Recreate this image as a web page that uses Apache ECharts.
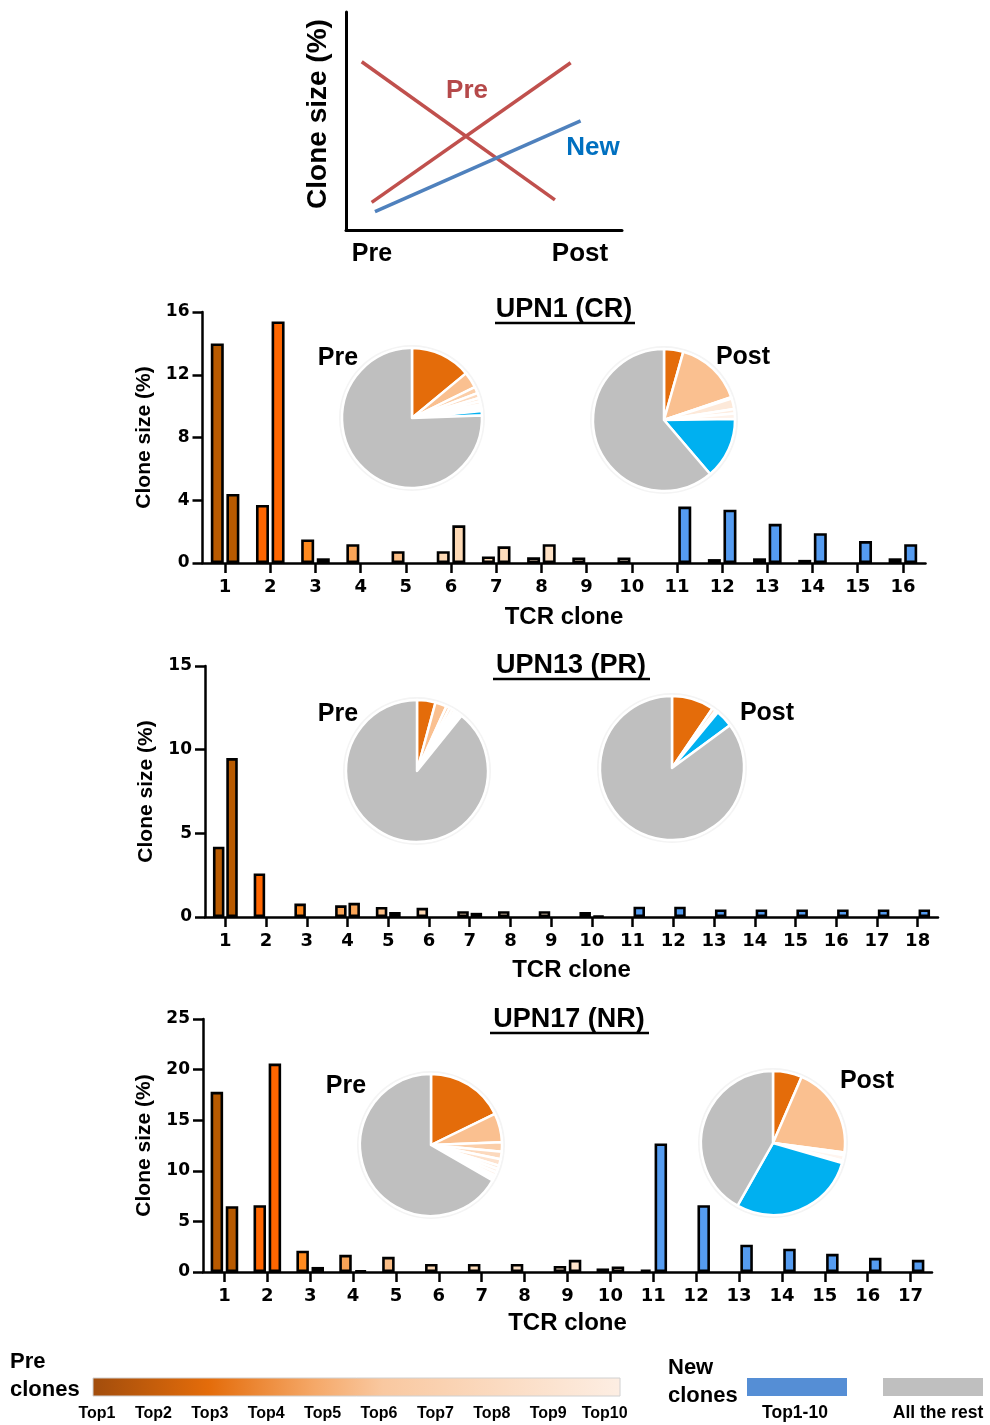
<!DOCTYPE html>
<html><head><meta charset="utf-8">
<script src="https://cdn.jsdelivr.net/npm/echarts@6/dist/echarts.min.js"></script>
<style>html,body{margin:0;padding:0;background:#fff}#c{width:990px;height:1425px}</style>
</head><body><div id="c"></div>
<script>
// ---------------- data ----------------
const upn1Clones = ['1','2','3','4','5','6','7','8','9','10','11','12','13','14','15','16'];
const upn1Pre  = [14.0, 3.7, 1.5, 1.2, 0.75, 0.75, 0.42, 0.36, 0.35, 0.35, 0, 0.25, 0.3, 0.2, 0, 0.3];
const upn1Post = [4.4, 15.4, 0.3, 0, 0, 2.4, 1.06, 1.2, 0, 0, 3.6, 3.4, 2.5, 1.9, 1.4, 1.2];

const upn13Clones = ['1','2','3','4','5','6','7','8','9','10','11','12','13','14','15','16','17','18'];
const upn13Pre  = [4.2, 2.6, 0.8, 0.7, 0.6, 0.55, 0.35, 0.35, 0.35, 0.3, 0, 0, 0, 0, 0, 0, 0, 0];
const upn13Post = [9.5, 0, 0, 0.85, 0.3, 0, 0.25, 0, 0, 0.06, 0.62, 0.62, 0.45, 0.45, 0.45, 0.45, 0.45, 0.45];

const upn17Clones = ['1','2','3','4','5','6','7','8','9','10','11','12','13','14','15','16','17'];
const upn17Pre  = [17.8, 6.6, 2.1, 1.7, 1.5, 0.8, 0.8, 0.8, 0.6, 0.35, 0.25, 0, 0, 0, 0, 0, 0];
const upn17Post = [6.5, 20.6, 0.5, 0.15, 0, 0, 0, 0, 1.2, 0.55, 12.7, 6.6, 2.7, 2.3, 1.8, 1.4, 1.2];

// schematic lines (x: 0..100 Pre->Post, y: 0..100 clone size)
const schemPreDown = [[5.7, 77.2], [75.7, 13.8]];
const schemPreUp   = [[9.3, 12.7], [81.4, 76.7]];
const schemNew     = [[10.5, 8.4], [85.0, 50.1]];

const preLegendLabels = ['Top1','Top2','Top3','Top4','Top5','Top6','Top7','Top8','Top9','Top10'];
const panelTitles = ['UPN1 (CR)', 'UPN13 (PR)', 'UPN17 (NR)'];

// ---------------- styles ----------------
const FONT = '"Liberation Sans", Arial, sans-serif';
const TFONT = '"DejaVu Sans", sans-serif';
const barColors = ['#B85A00','#FF6600','#FF8A1F','#F9A457','#FBBE86','#FDD9B5','#FEDDBB','#FEE1C4','#FEE4CB','#FFE8D2'];
const newBarColor = '#559CF1';
const pieColors = ['#E46C0A','#FAC090','#FBCEA8','#FCD9BD','#FDE2CD','#FDE9D9','#FEEEE2','#FEF2EA','#FFF5EF','#FFF8F4'];
const pieNew = '#00B0F0', pieRest = '#BFBFBF';

const panels = [
  {cats: upn1Clones, pre: upn1Pre, post: upn1Post, max: 16, interval: 4,
   grid: {left: 202.5, top: 312, width: 723, height: 251}, bw: 13, gap: '20%', xGap: 42,
   pies: [[412, 418, 70], [664, 420, 71]]},
  {cats: upn13Clones, pre: upn13Pre, post: upn13Post, max: 15, interval: 5,
   grid: {left: 205, top: 666, width: 733, height: 251}, bw: 11.5, gap: '16%', xGap: 41,
   pies: [[417, 771, 71], [672, 768, 72]]},
  {cats: upn17Clones, pre: upn17Pre, post: upn17Post, max: 25, interval: 5,
   grid: {left: 203, top: 1019, width: 729, height: 253}, bw: 12.5, gap: '21%', xGap: 39,
   pies: [[431, 1145, 71], [773, 1143, 72]]}
];

function pieData(vals) {
  const items = [];
  let total = 0;
  for (let i = 0; i < 10; i++) {
    total += vals[i];
    if (vals[i] > 0) items.push({name: 'Top' + (i + 1), value: vals[i], itemStyle: {color: pieColors[i]}});
  }
  let nw = 0;
  for (let i = 10; i < vals.length; i++) nw += vals[i];
  total += nw;
  if (nw > 0) items.push({name: 'New', value: nw, itemStyle: {color: pieNew}});
  items.push({name: 'Rest', value: 100 - total, itemStyle: {color: pieRest}});
  return items;
}

const grids = [{left: 346, top: 12, width: 276, height: 218}];
const xAxes = [{gridIndex: 0, type: 'value', min: 0, max: 100,
  axisLine: {show: true, onZero: false, lineStyle: {color: '#000', width: 3}},
  axisTick: {show: false}, axisLabel: {show: false}, splitLine: {show: false}}];
const yAxes = [{gridIndex: 0, type: 'value', min: 0, max: 100,
  axisLine: {show: true, lineStyle: {color: '#000', width: 3}},
  axisTick: {show: false}, axisLabel: {show: false}, splitLine: {show: false}}];
const series = [
  {type: 'line', xAxisIndex: 0, yAxisIndex: 0, data: schemPreDown, symbol: 'none', lineStyle: {color: '#C0504D', width: 3.5}, silent: true},
  {type: 'line', xAxisIndex: 0, yAxisIndex: 0, data: schemPreUp, symbol: 'none', lineStyle: {color: '#C0504D', width: 3.5}, silent: true},
  {type: 'line', xAxisIndex: 0, yAxisIndex: 0, data: schemNew, symbol: 'none', lineStyle: {color: '#4F81BD', width: 3.5}, silent: true}
];

const nz = v => v > 0 ? v : null;

panels.forEach((p, k) => {
  const gi = k + 1;
  grids.push(p.grid);
  xAxes.push({gridIndex: gi, type: 'category', data: p.cats,
    name: 'TCR clone', nameLocation: 'middle', nameGap: p.xGap,
    nameTextStyle: {fontFamily: FONT, fontWeight: 'bold', fontSize: 24, color: '#000'},
    axisLine: {show: true, lineStyle: {color: '#000', width: 2.5}},
    axisTick: {show: true, alignWithLabel: true, length: 10, lineStyle: {color: '#000', width: 2.5}},
    axisLabel: {fontFamily: TFONT, fontWeight: 'bold', fontSize: 18, color: '#000', margin: 15, interval: 0},
    splitLine: {show: false}});
  yAxes.push({gridIndex: gi, type: 'value', min: 0, max: p.max, interval: p.interval,
    name: 'Clone size (%)', nameLocation: 'middle', nameGap: 48, nameRotate: 90,
    nameTextStyle: {fontFamily: FONT, fontWeight: 'bold', fontSize: 21, color: '#000'},
    axisLine: {show: true, lineStyle: {color: '#000', width: 2.5}},
    axisTick: {show: true, length: 10, lineStyle: {color: '#000', width: 2.5}},
    axisLabel: {fontFamily: TFONT, fontWeight: 'bold', fontSize: 17, color: '#000', margin: 13},
    splitLine: {show: false}});
  const colorFn = (prm) => prm.dataIndex < 10 ? barColors[prm.dataIndex] : newBarColor;
  series.push({type: 'bar', name: 'Pre', xAxisIndex: gi, yAxisIndex: gi, data: p.pre.map(nz),
    barWidth: p.bw, barGap: p.gap, silent: true,
    itemStyle: {color: colorFn, borderColor: '#000', borderWidth: 2.6}});
  series.push({type: 'bar', name: 'Post', xAxisIndex: gi, yAxisIndex: gi, data: p.post.map(nz),
    barWidth: p.bw, barGap: p.gap, silent: true,
    itemStyle: {color: colorFn, borderColor: '#000', borderWidth: 2.6}});
  [p.pre, p.post].forEach((vals, j) => {
    const [cx, cy, r] = p.pies[j];
    series.push({type: 'pie', center: [cx, cy], radius: [r + 1, r + 3], silent: true,
      label: {show: false}, labelLine: {show: false},
      data: [{value: 1, itemStyle: {color: '#F4F4F4'}}]});
    series.push({type: 'pie', center: [cx, cy], radius: [0, r], startAngle: 90, clockwise: true,
      silent: true, label: {show: false}, labelLine: {show: false},
      itemStyle: {borderColor: '#fff', borderWidth: 2.5},
      data: pieData(vals)});
  });
});

// ---------------- graphic text ----------------
function txt(x, y, s, size, color, align) {
  return {type: 'text', x: x, y: y, silent: true,
    style: {text: s, fontFamily: FONT, fontWeight: 'bold', fontSize: size, fill: color || '#000',
      align: align || 'center', verticalAlign: 'middle'}};
}
const graphics = [];
// schematic labels
graphics.push({type: 'text', x: 318, y: 114, rotation: Math.PI / 2, silent: true,
  style: {text: 'Clone size (%)', fontFamily: FONT, fontWeight: 'bold', fontSize: 28, fill: '#000',
    align: 'center', verticalAlign: 'middle'}});
graphics.push(txt(467, 91, 'Pre', 26, '#B5494A'));
graphics.push(txt(593, 148, 'New', 26, '#0070C0'));
graphics.push(txt(372, 254, 'Pre', 25));
graphics.push(txt(580, 254, 'Post', 26));
// panel titles + underlines
const titlePos = [[564, 310, 495, 635, 323], [571, 666, 493, 650, 679], [569, 1020, 490, 649, 1033]];
titlePos.forEach((t, i) => {
  graphics.push(txt(t[0], t[1], panelTitles[i], 27));
  graphics.push({type: 'line', silent: true, shape: {x1: t[2], y1: t[4], x2: t[3], y2: t[4]},
    style: {stroke: '#000', lineWidth: 2.5}});
});
// pie labels
graphics.push(txt(338, 358, 'Pre', 25));
graphics.push(txt(743, 357, 'Post', 25));
graphics.push(txt(338, 714, 'Pre', 25));
graphics.push(txt(767, 713, 'Post', 25));
graphics.push(txt(346, 1086, 'Pre', 25));
graphics.push(txt(867, 1081, 'Post', 25));
// legend
graphics.push(txt(10, 1362, 'Pre', 22, '#000', 'left'));
graphics.push(txt(10, 1390, 'clones', 22, '#000', 'left'));
graphics.push({type: 'rect', silent: true, shape: {x: 93, y: 1378, width: 527, height: 18},
  style: {stroke: '#D0D0D0', lineWidth: 1,
    fill: new echarts.graphic.LinearGradient(0, 0, 1, 0, [
      {offset: 0, color: '#A24D0C'}, {offset: 0.22, color: '#E46C0A'},
      {offset: 0.42, color: '#F5A868'}, {offset: 0.55, color: '#F9C8A0'},
      {offset: 1, color: '#FDEEE3'}])}});
preLegendLabels.forEach((l, i) => graphics.push(txt(97 + i * 56.4, 1414, l, 16)));
graphics.push(txt(668, 1368, 'New', 22, '#000', 'left'));
graphics.push(txt(668, 1396, 'clones', 22, '#000', 'left'));
graphics.push({type: 'rect', silent: true, shape: {x: 747, y: 1378, width: 100, height: 18}, style: {fill: '#558ED5'}});
graphics.push({type: 'rect', silent: true, shape: {x: 883, y: 1378, width: 100, height: 18}, style: {fill: '#BFBFBF'}});
graphics.push(txt(795, 1413, 'Top1-10', 17.5));
graphics.push(txt(938, 1413, 'All the rest', 17.5));

const chart = echarts.init(document.getElementById('c'), null, {renderer: 'canvas'});
chart.setOption({
  animation: false,
  backgroundColor: '#fff',
  grid: grids, xAxis: xAxes, yAxis: yAxes, series: series,
  graphic: {elements: graphics}
});
</script>
</body></html>
